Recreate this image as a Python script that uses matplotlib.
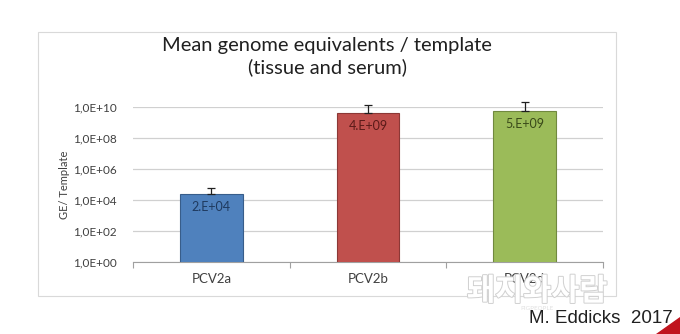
import matplotlib.pyplot as plt
import matplotlib.patheffects as pe
from matplotlib.patches import Rectangle, Polygon

categories = ['PCV2a', 'PCV2b', 'PCV2d']
means = [2.4e4, 3.9e9, 5.3e9]
err_up = [3.6e4, 9.0e9, 1.6e10]
value_labels = ['2.E+04', '4.E+09', '5.E+09']
ytick_vals = [1e0, 1e2, 1e4, 1e6, 1e8, 1e10]
ytick_labels = ['1,0E+00', '1,0E+02', '1,0E+04', '1,0E+06', '1,0E+08', '1,0E+10']

bar_colors = ['#4F81BD', '#C0504D', '#9BBB59']
edge_colors = ['#385D8A', '#8C3836', '#71893F']
label_colors = ['#1F3A5F', '#5A1A18', '#3A4A1A']

fig = plt.figure(figsize=(6.8, 3.34), dpi=100)
fig.patch.set_facecolor('white')

# chart frame
fig.add_artist(Rectangle((0.056, 0.114), 0.850, 0.790, transform=fig.transFigure,
                         facecolor='white', edgecolor='#D9D9D9', lw=0.8, zorder=-1))

ax = fig.add_axes([0.1956, 0.2156, 0.691, 0.464])
ax.patch.set_alpha(0)
x = range(len(categories))
bars = ax.bar(x, means, width=0.4, color=bar_colors, edgecolor=edge_colors,
              linewidth=0.8, zorder=3)
ax.errorbar(x, means, yerr=[[0] * 3, err_up], fmt='none', ecolor='#202020',
            elinewidth=0.9, capsize=3, capthick=0.9, zorder=4, clip_on=False)
for i, b in enumerate(bars):
    ax.annotate(value_labels[i], (b.get_x() + b.get_width() / 2, means[i]),
                xytext=(0, -5), textcoords='offset points', ha='center', va='top',
                fontsize=9, color=label_colors[i], family='Lato', zorder=5)

ax.set_yscale('log')
ax.set_ylim(1, 1e10)
ax.set_xlim(-0.5, 2.5)
ax.set_yticks(ytick_vals)
ax.set_yticklabels(ytick_labels)
ax.minorticks_off()
ax.yaxis.grid(True, color='#D0D0D0', lw=0.9, zorder=0)
ax.tick_params(axis='y', length=0, pad=12, labelsize=8.5, labelcolor='#404040')
ax.set_xticks(list(x))
ax.set_xticklabels(categories)
ax.tick_params(axis='x', length=0, pad=8, labelsize=9.5, labelcolor='#404040')
ax.set_xticks([-0.5, 0.5, 1.5, 2.5], minor=True)
ax.tick_params(axis='x', which='minor', length=4, color='#A0A0A0', width=0.8)
for t in ax.get_xticklabels() + ax.get_yticklabels():
    t.set_family('Lato')
for s in ['top', 'right', 'left']:
    ax.spines[s].set_visible(False)
ax.spines['bottom'].set_color('#A0A0A0')
ax.set_ylabel('GE/ Template', fontsize=8, color='#404040', family='Lato', labelpad=2)

fig.text(0.481, 0.830, 'Mean genome equivalents / template\n(tissue and serum)',
         ha='center', va='center', fontsize=14.5, family='Lato', color='#202020',
         linespacing=1.3)

# watermark
fig.text(0.79, 0.128, '돼지와사람', ha='center', va='center', fontsize=22,
         family='Noto Sans CJK KR', weight='bold', color='white',
         path_effects=[pe.withStroke(linewidth=1.4, foreground='#D0D0D0')])
fig.text(0.79, 0.075, 'PIGPEOPLE', ha='center', va='center', fontsize=4.5,
         color='#E0E0E0', family='Lato')

fig.text(0.99, 0.045, 'M. Eddicks  2017', ha='right', va='center', fontsize=13.5,
         family='Liberation Sans', color='#202020')
fig.add_artist(Polygon([(0.965, 0.0), (1.0, 0.0), (1.0, 0.05)], closed=True,
                       transform=fig.transFigure, color='#C0141E'))

fig.savefig('out.png', dpi=100)
